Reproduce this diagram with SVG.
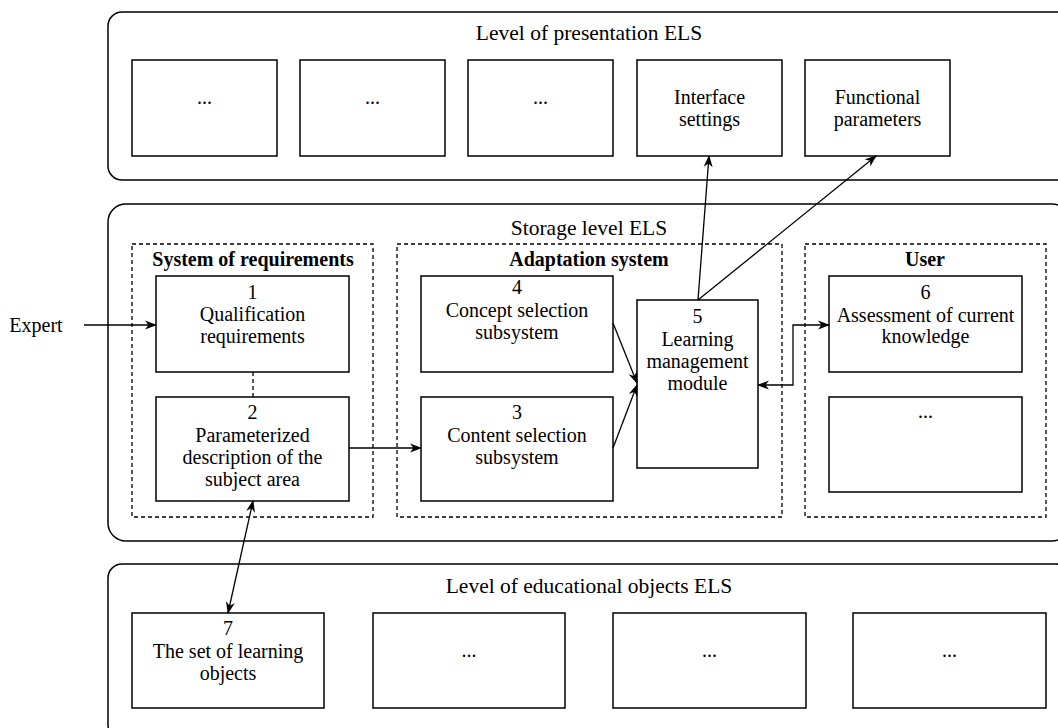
<svg xmlns="http://www.w3.org/2000/svg" width="1058" height="728" viewBox="0 0 1058 728" font-family="'Liberation Serif', 'DejaVu Serif', serif">
<style>
text{font-family:'Liberation Serif','DejaVu Serif',serif;fill:#000;text-anchor:middle}
.t{font-size:20px}
.h{font-size:21.5px}
.b{font-size:20px;font-weight:bold}
.c{fill:#fff;stroke:#000;stroke-width:1.5}
.n{fill:#fff;stroke:#000;stroke-width:1.5}
.d{fill:none;stroke:#000;stroke-width:1.3;stroke-dasharray:4 3}
.e{fill:none;stroke:#000;stroke-width:1.3}
</style>
<defs>
<marker id="a" viewBox="0 0 12 10" refX="11" refY="5" markerWidth="12" markerHeight="10" markerUnits="userSpaceOnUse" orient="auto-start-reverse">
<path d="M0,0.5 L12,5 L0,9.5 L3.5,5 Z" fill="#000"/>
</marker>
</defs>
<g id="level-presentation">
<rect class="c" x="108" y="12" width="970" height="168" rx="14"/>
<text class="h" x="589" y="40">Level of presentation ELS</text>
</g>
<g id="p1"><rect class="n" x="132" y="60" width="145" height="96"/><text class="t" x="204.5" y="104">...</text></g>
<g id="p2"><rect class="n" x="300" y="60" width="145" height="96"/><text class="t" x="372.5" y="104">...</text></g>
<g id="p3"><rect class="n" x="468" y="60" width="145" height="96"/><text class="t" x="540.5" y="104">...</text></g>
<g id="interface"><rect class="n" x="637" y="60" width="145" height="96"/><text class="t" x="709.5" y="104">Interface</text><text class="t" x="709.5" y="126">settings</text></g>
<g id="functional"><rect class="n" x="805" y="60" width="145" height="96"/><text class="t" x="877.5" y="104">Functional</text><text class="t" x="877.5" y="126">parameters</text></g>

<g id="level-storage">
<rect class="c" x="108" y="204" width="962" height="337" rx="18"/>
<text class="h" x="589" y="235">Storage level ELS</text>
</g>
<g id="sys-req">
<rect class="d" x="132" y="244" width="241" height="273"/>
<text class="b" x="253" y="266">System of requirements</text>
</g>
<g id="adapt">
<rect class="d" x="397" y="244" width="385" height="273"/>
<text class="b" x="589" y="266">Adaptation system</text>
</g>
<g id="user">
<rect class="d" x="805" y="244" width="241" height="273"/>
<text class="b" x="925" y="266">User</text>
</g>
<g id="n1"><rect class="n" x="156" y="276" width="193" height="96"/><text class="t" x="252.5" y="299">1</text><text class="t" x="252.5" y="321">Qualification</text><text class="t" x="252.5" y="343">requirements</text></g>
<g id="n2"><rect class="n" x="156" y="397" width="193" height="104"/><text class="t" x="252.5" y="419">2</text><text class="t" x="252.5" y="442">Parameterized</text><text class="t" x="252.5" y="464">description of the</text><text class="t" x="252.5" y="486">subject area</text></g>
<g id="n4"><rect class="n" x="421" y="276" width="192" height="96"/><text class="t" x="517" y="294">4</text><text class="t" x="517" y="317">Concept selection</text><text class="t" x="517" y="339">subsystem</text></g>
<g id="n3"><rect class="n" x="421" y="397" width="192" height="104"/><text class="t" x="517" y="419">3</text><text class="t" x="517" y="442">Content selection</text><text class="t" x="517" y="464">subsystem</text></g>
<g id="n5"><rect class="n" x="637" y="300" width="121" height="168"/><text class="t" x="697.5" y="323">5</text><text class="t" x="697.5" y="346">Learning</text><text class="t" x="697.5" y="368">management</text><text class="t" x="697.5" y="390">module</text></g>
<g id="n6"><rect class="n" x="829" y="276" width="193" height="96"/><text class="t" x="925.5" y="299">6</text><text class="t" x="925.5" y="322">Assessment of current</text><text class="t" x="925.5" y="343">knowledge</text></g>
<g id="u2"><rect class="n" x="829" y="397" width="193" height="95"/><text class="t" x="925.5" y="418">...</text></g>

<g id="level-objects">
<rect class="c" x="108" y="564" width="962" height="175" rx="14"/>
<text class="h" x="589" y="593">Level of educational objects ELS</text>
</g>
<g id="n7"><rect class="n" x="132" y="613" width="192" height="95"/><text class="t" x="228" y="635">7</text><text class="t" x="228" y="658">The set of learning</text><text class="t" x="228" y="680">objects</text></g>
<g id="o2"><rect class="n" x="373" y="613" width="192" height="95"/><text class="t" x="469" y="657">...</text></g>
<g id="o3"><rect class="n" x="613" y="613" width="193" height="95"/><text class="t" x="709.5" y="657">...</text></g>
<g id="o4"><rect class="n" x="853" y="613" width="193" height="95"/><text class="t" x="949.5" y="657">...</text></g>

<g id="expert"><text class="t" x="36" y="332">Expert</text></g>

<g id="connectors">
<line class="e" x1="84" y1="325" x2="156" y2="325" marker-end="url(#a)"/>
<line class="d" x1="253" y1="372" x2="253" y2="397"/>
<line class="e" x1="349" y1="448" x2="421" y2="448" marker-end="url(#a)"/>
<line class="e" x1="613" y1="323" x2="637" y2="383" marker-end="url(#a)"/>
<line class="e" x1="613" y1="448" x2="637" y2="385" marker-end="url(#a)"/>
<path class="e" d="M758,385 H793 V325 H829" marker-start="url(#a)" marker-end="url(#a)"/>
<line class="e" x1="698" y1="300" x2="709" y2="156" marker-end="url(#a)"/>
<line class="e" x1="698" y1="300" x2="876" y2="156" marker-end="url(#a)"/>
<line class="e" x1="253" y1="501" x2="228" y2="613" marker-start="url(#a)" marker-end="url(#a)"/>
</g>
</svg>
